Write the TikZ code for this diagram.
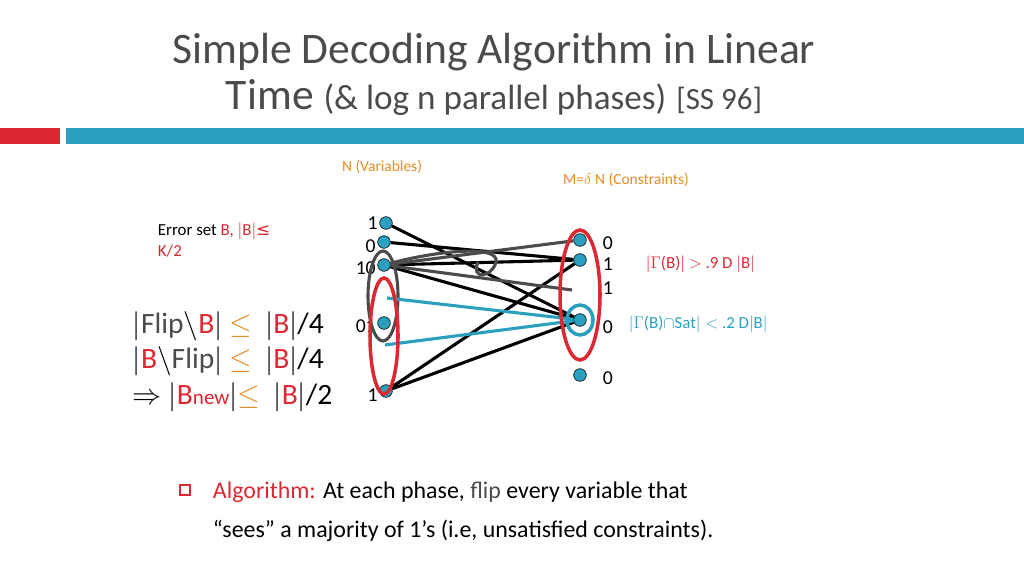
\documentclass[tikz,border=0pt]{standalone}
\usepackage{fontspec}
\setmainfont{Carlito}
\newfontfamily\symfont{DejaVu Sans}
\definecolor{tealc}{RGB}{43,160,190}
\definecolor{redc}{RGB}{220,40,50}
\definecolor{orangec}{RGB}{230,140,40}
\definecolor{grayc}{RGB}{75,75,75}
\begin{document}
\begin{tikzpicture}[x=0.025cm,y=-0.025cm,
  var node/.style={circle,draw=black,fill=tealc,inner sep=0.,minimum size=9pt},
  con node/.style={circle,draw=black,fill=tealc,inner sep=0.,minimum size=9pt},
  edge/.style={line width=2.2pt,black},
  gedge/.style={line width=2.2pt,grayc},
  bedge/.style={line width=2.2pt,tealc},
  bit/.style={font=\fontsize{14}{14}\selectfont}]
  \useasboundingbox (0,0) rectangle (1024,576);
  % title and bar
  \node[font=\fontsize{31}{31}\selectfont,grayc] (title1) at (494,52) {Simple Decoding Algorithm in Linear};
  \node[font=\fontsize{31}{31}\selectfont,grayc] (title2) at (494,98) {Time {\fontsize{25}{25}\selectfont (\& log n parallel phases)} {\fontsize{22}{22}\selectfont [SS 96]}};
  \fill[redc] (0,128) rectangle (60,144);
  \fill[tealc] (66,128) rectangle (1024,144);
  % column headers
  \node[orangec,font=\fontsize{11}{11}\selectfont] (hvar) at (382,167) {N (Variables)};
  \node[orangec,font=\fontsize{11}{11}\selectfont] (hcon) at (626,180) {M=$\delta$ N (Constraints)};
  % variables
  \node[var node] (v1) at (386,223) {};
  \node[var node] (v2) at (384,242) {};
  \node[var node] (v3) at (384,265) {};
  \node[var node] (v4) at (384,323) {};
  \node[var node] (v5) at (386,391) {};
  \node[bit,anchor=east,inner sep=1pt] at (v1.west) {1};
  \node[bit,anchor=east,inner sep=1pt] at ([yshift=-3pt]v2.west) {0};
  \node[bit,anchor=east,inner sep=1pt] at ([yshift=-2pt]v3.west) {10};
  \node[bit,anchor=east,inner sep=1pt] at ([yshift=-2pt]v4.west) {01};
  \node[bit,anchor=east,inner sep=1pt] at ([yshift=-3pt]v5.west) {1};
  % constraints
  \node[con node] (c1) at (580,240) {};
  \node[con node] (c2) at (580,260) {};
  \node[con node] (c3) at (580,320) {};
  \node[con node] (c4) at (580,375) {};
  \node[bit,anchor=west] at ([xshift=8pt,yshift=-2pt]c1.east) {0};
  \node[bit,anchor=west] at ([xshift=8pt,yshift=-3pt]c2.east) {1};
  \node[bit,anchor=west] at ([xshift=8pt,yshift=-20pt]c2.east) {1};
  \node[bit,anchor=west] at ([xshift=8pt,yshift=-5pt]c3.east) {0};
  \node[bit,anchor=west] at ([xshift=8pt,yshift=-2pt]c4.east) {0};
  \coordinate (g1) at (572,290);
  % edges
  \draw[edge] (v1) -- (c3);
  \draw[edge] (v2) -- (c2);
  \draw[edge] (v3) -- (c2);
  \draw[edge] (v3) -- (c3);
  \draw[edge] (v5) -- (c2);
  \draw[edge] (v5) -- (c3);
  \draw[gedge] (v3) -- (c1);
  \draw[gedge] (v3) -- (g1);
  \draw[gedge] (v3) .. controls (440,250) and (500,245) .. (496,262) .. controls (492,278) and (470,280) .. (478,262);
  \draw[gedge] (383,296) ellipse (15 and 45);
  \draw[bedge] (387,298) -- (c3);
  \draw[bedge] (385,345) -- (c3);
  % sets
  \draw[redc,line width=2.5pt] (384,336) ellipse (14 and 58);
  \draw[redc,line width=2.5pt] (580,295) ellipse (20 and 65);
  \draw[tealc,line width=2.5pt] (c3) ellipse (13 and 15);
  % labels
  \node[redc,font=\fontsize{12}{12}\selectfont,anchor=west] (lgam) at (641,264) {$|\Gamma$(B)$|$ $>$ .9 D $|$B$|$};
  \node[tealc,font=\fontsize{12}{12}\selectfont,anchor=west] (lsat) at (624,324) {$|\Gamma$(B)$\cap$Sat$|<$ .2 D$|$B$|$};
  \node[align=left,anchor=north west,font=\fontsize{12}{15}\selectfont] (err) at (153,218) {Error set \textcolor{redc}{B, $|$B$|${\symfont ≤}}\\\textcolor{redc}{K/2}};
  \node[align=left,anchor=north west,font=\fontsize{21}{25}\selectfont] (flip) at (128,307)
    {$|$\textcolor{grayc}{Flip}$\backslash$\textcolor{redc}{B}$|$ \textcolor{orangec}{$\leq$} \ $|$\textcolor{redc}{B}$|$/4\\
     $|$\textcolor{redc}{B}$\backslash$\textcolor{grayc}{Flip}$|$ \textcolor{orangec}{$\leq$} \ $|$\textcolor{redc}{B}$|$/4\\
     $\Rightarrow$ $|$\textcolor{redc}{B{\fontsize{15}{15}\selectfont new}}$|$\textcolor{orangec}{$\leq$} \ $|$\textcolor{redc}{B}$|$/2};
  % bottom
  \draw[redc,line width=0.8pt] (180,485) rectangle (190,495);
  \node[align=left,anchor=north west,font=\fontsize{17}{28}\selectfont] (algo) at (208,477)
    {\textcolor{redc}{Algorithm:} At each phase, \textcolor{grayc}{flip} every variable that\\``sees'' a majority of 1's (i.e, unsatisfied constraints).};
\end{tikzpicture}
\end{document}
